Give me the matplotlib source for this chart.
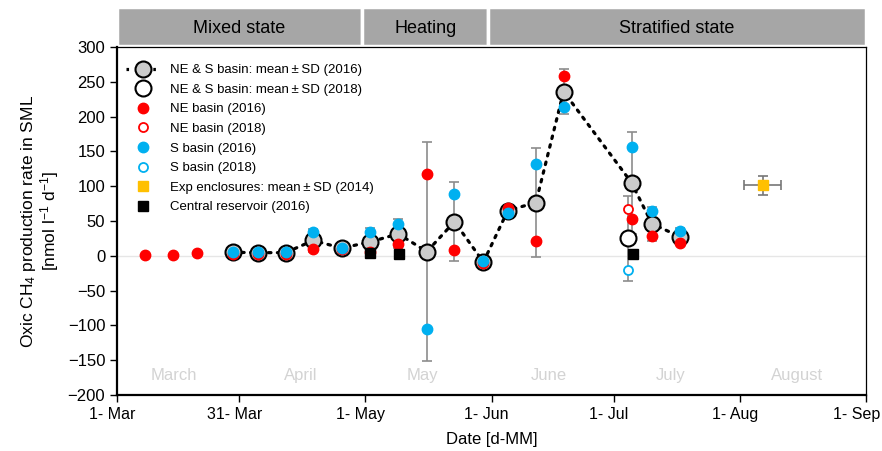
import matplotlib
matplotlib.use("Agg")
import matplotlib.pyplot as plt
import matplotlib.transforms as mtransforms
from matplotlib.lines import Line2D
from matplotlib.patches import Rectangle

plt.rcParams['font.family'] = ['Liberation Sans', 'DejaVu Sans']
plt.rcParams['mathtext.default'] = 'regular'

# days since 1 March (2016 calendar)
days_mean16 = [28.4, 34.6, 41.4, 48.2, 55.2, 62.2, 69.1, 76.1, 82.9, 90.0, 96.0, 102.9, 109.7, 126.4, 131.4, 138.3]
mean16 = [5, 4.5, 4.5, 22, 11, 20, 31.5, 6, 49, -9, 65, 76.5, 236, 105, 46, 27.5]
sd16 = [2, 2, 2, 16, 1, 20, 21, 157, 57, 1.5, 5, 78, 32, 73, 24.5, 12]

days_ne16 = [6.9, 13.8, 19.7, 28.4, 34.6, 41.4, 48.2, 55.2, 62.2, 69.1, 76.1, 82.9, 90.0, 96.0, 102.9, 109.7, 126.6, 131.4, 138.3]
ne16 = [1, 1, 4, 3, 3, 3, 10, 10, 5, 17, 117, 8.5, -10.5, 68, 21.5, 259, 53, 29, 18]

days_s16 = [28.4, 34.6, 41.4, 48.2, 55.2, 62.2, 69.1, 76.1, 82.9, 90.0, 96.0, 102.9, 109.7, 126.4, 131.4, 138.3]
s16 = [6, 6, 6, 33.5, 11, 34, 46, -105, 88.5, -8, 61, 132, 214, 157, 64, 36]

days_18 = [125.6]
mean18 = [25]
sd18 = [61]
ne18 = [67]
s18 = [-20]

days_res16 = [62.2, 69.3, 126.7]
res16 = [4, 2, 3]

days_exp14 = [158.6]
exp14 = [101]
exp14_xerr = [4.5]
exp14_yerr = [14]

tick_days = [0, 30, 61, 92, 122, 153, 184]
tick_labels = ["1- Mar", "31- Mar", "1- May", "1- Jun", "1- Jul", "1- Aug", "1- Sep"]

month_days = [14, 45, 75, 106, 136, 167]
month_names = ["March", "April", "May", "June", "July", "August"]

phases = [("Mixed state", 0, 60.2), ("Heating", 60.2, 91.2), ("Stratified state", 91.2, 184)]

red = "#ff0000"
blue = "#00b0f0"
orange = "#ffc000"
grey = "#cbcbcb"
ebar = "#8c8c8c"

fig = plt.figure(figsize=(8.82, 4.51), dpi=100)
ax = fig.add_axes([0.1327, 0.1242, 0.8492, 0.7716])

ax.axhline(0, color="#e6e6e6", lw=1, zorder=0)

# 2016 mean +- SD
ax.errorbar(days_mean16, mean16, yerr=sd16, fmt="none", ecolor=ebar, elinewidth=1.2,
            capsize=3.5, capthick=1.2, zorder=2)
ax.plot(days_mean16, mean16, color="black", lw=2.3, linestyle=(0, (0.8, 2.0)),
        dash_capstyle="round", zorder=3)
ax.plot(days_mean16, mean16, "o", ms=11.5, mfc=grey, mec="black", mew=1.5, ls="none", zorder=4)

# 2018 mean +- SD
ax.errorbar(days_18, mean18, yerr=sd18, fmt="none", ecolor=ebar, elinewidth=1.2,
            capsize=3.5, capthick=1.2, zorder=2)
ax.plot(days_18, mean18, "o", ms=11.5, mfc="white", mec="black", mew=1.5, ls="none", zorder=4)

# basins
ax.plot(days_ne16, ne16, "o", ms=7.5, mfc=red, mec=red, ls="none", zorder=5)
ax.plot(days_s16, s16, "o", ms=7.5, mfc=blue, mec=blue, ls="none", zorder=6)
ax.plot(days_18, ne18, "o", ms=6.5, mfc="white", mec=red, mew=1.3, ls="none", zorder=5)
ax.plot(days_18, s18, "o", ms=6.5, mfc="white", mec=blue, mew=1.3, ls="none", zorder=5)

# central reservoir
ax.plot(days_res16, res16, "s", ms=7, mfc="black", mec="black", ls="none", zorder=7)

# experimental enclosures
ax.errorbar(days_exp14, exp14, xerr=exp14_xerr, yerr=exp14_yerr, fmt="s", ms=7,
            mfc=orange, mec=orange, ecolor="#777777", elinewidth=1.2, capsize=3.5,
            capthick=1.2, zorder=5)

for d, name in zip(month_days, month_names):
    ax.text(d, -172, name, color="#d3d3d3", fontsize=12, ha="center", va="center")

ax.set_xlim(0, 184)
ax.set_ylim(-200, 300)
ax.set_xticks(tick_days)
ax.set_xticklabels(tick_labels)
ax.set_yticks(range(-200, 301, 50))
ax.set_yticklabels([str(v).replace("-", "\u2212") for v in range(-200, 301, 50)])
ax.tick_params(axis="both", direction="out", length=5, width=1, labelsize=12)
ax.tick_params(axis="x", labelsize=11.5)
xlabs = ax.get_xticklabels()
for i, lab in enumerate(xlabs):
    shift = -9 if i == len(xlabs) - 1 else -5
    lab.set_transform(lab.get_transform() + mtransforms.ScaledTranslation(shift / 100, 0, fig.dpi_scale_trans))
for s in ["left", "bottom"]:
    ax.spines[s].set_linewidth(1.6)
for s in ["top", "right"]:
    ax.spines[s].set_linewidth(0.9)

ax.set_xlabel("Date [d-MM]", fontsize=12, labelpad=7)
ax.set_ylabel("Oxic CH$_4$ production rate in SML\n[nmol l$^{-1}$ d$^{-1}$]", fontsize=12.5,
              labelpad=5, linespacing=1.0)

# phase band above the plot
trans = mtransforms.blended_transform_factory(ax.transData, ax.transAxes)
for name, x0, x1 in phases:
    ax.add_patch(Rectangle((x0, 1.004), x1 - x0, 0.112, transform=trans, clip_on=False,
                           fc="#a6a6a6", ec="white", lw=2.5, zorder=1))
    ax.text((x0 + x1) / 2, 1.052, name, transform=trans, ha="center", va="center", fontsize=13)

handles = [
    Line2D([], [], color="black", lw=2.3, ls=(0, (0.8, 2.0)), marker="o", ms=11.5,
           mfc=grey, mec="black", mew=1.5),
    Line2D([], [], ls="none", marker="o", ms=11.5, mfc="white", mec="black", mew=1.5),
    Line2D([], [], ls="none", marker="o", ms=7.5, mfc=red, mec=red),
    Line2D([], [], ls="none", marker="o", ms=6.5, mfc="white", mec=red, mew=1.3),
    Line2D([], [], ls="none", marker="o", ms=7.5, mfc=blue, mec=blue),
    Line2D([], [], ls="none", marker="o", ms=6.5, mfc="white", mec=blue, mew=1.3),
    Line2D([], [], ls="none", marker="s", ms=7, mfc=orange, mec=orange),
    Line2D([], [], ls="none", marker="s", ms=7, mfc="black", mec="black"),
]
labels = [
    "NE & S basin: mean\u2009\u00b1\u2009SD (2016)",
    "NE & S basin: mean\u2009\u00b1\u2009SD (2018)",
    "NE basin (2016)",
    "NE basin (2018)",
    "S basin (2016)",
    "S basin (2018)",
    "Exp enclosures: mean\u2009\u00b1\u2009SD (2014)",
    "Central reservoir (2016)",
]
ax.legend(handles, labels, loc="upper left", bbox_to_anchor=(0.0, 0.978), frameon=False,
          fontsize=9.5, handlelength=2.6, handletextpad=0.7, labelspacing=0.56,
          borderaxespad=0.3)

fig.savefig("out.png", dpi=100)
